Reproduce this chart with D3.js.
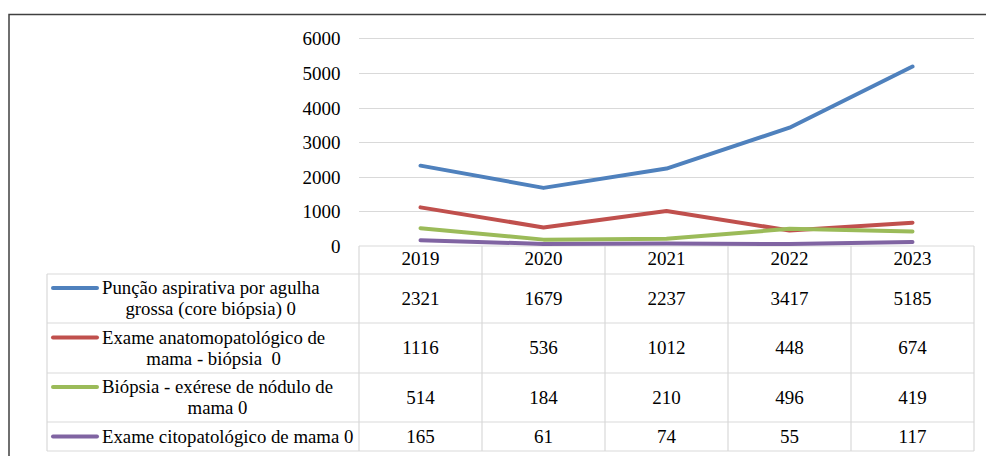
<!DOCTYPE html>
<html><head><meta charset="utf-8">
<script src="https://cdn.jsdelivr.net/npm/d3@7"></script>
<style>html,body{margin:0;padding:0;background:#fff}svg{display:block}</style>
</head><body>
<svg id="c" width="986" height="456"></svg>
<script>
const years = ["2019","2020","2021","2022","2023"];
const seriesNames = [
  ["Punção aspirativa por agulha","grossa (core biópsia) 0"],
  ["Exame anatomopatológico de","mama - biópsia  0"],
  ["Biópsia - exérese de nódulo de","mama 0"],
  ["Exame citopatológico de mama 0"]
];
const puncao = [2321,1679,2237,3417,5185];
const anatomo = [1116,536,1012,448,674];
const exerese = [514,184,210,496,419];
const citopat = [165,61,74,55,117];
const seriesValues = [puncao, anatomo, exerese, citopat];
const colors = ["#4f81bd","#c0504d","#9bbb59","#8064a2"];
const yTicks = [0,1000,2000,3000,4000,5000,6000];

const svg = d3.select("#c");
svg.append("rect").attr("width",986).attr("height",456).attr("fill","#fff");
const FF = '"Liberation Serif"';
const fsNum = "19px", fsLeg = "18.8px";
const styleText = (sel, fs) => sel.style("font-family", FF).style("font-size", fs).style("white-space","pre").attr("fill","#000");

// outer frame
svg.append("path").attr("d","M9,456V14.5H986").attr("fill","none").attr("stroke","#404040").attr("stroke-width",1.5);

const x = d3.scaleBand().domain(years).range([359,974]).padding(0);
const y = d3.scaleLinear().domain([0,6000]).range([246,38.3]);
const cx = d => x(d) + x.bandwidth()/2;
const grid = "#d9d9d9";

// gridlines
svg.append("g").selectAll("line").data(yTicks.filter(t=>t>0)).join("line")
  .attr("x1",359).attr("x2",974).attr("y1",d=>Math.round(y(d))+0.5).attr("y2",d=>Math.round(y(d))+0.5)
  .attr("stroke",grid).attr("stroke-width",1);

// y axis labels
const yAxis = d3.axisLeft(y).tickValues(yTicks).tickSize(0).tickPadding(0).tickFormat(d3.format("d"));
const gy = svg.append("g").attr("transform","translate(340.5,0)").call(yAxis);
gy.select(".domain").remove();
styleText(gy.selectAll("text"), fsNum).attr("dy","0.34em");

// table
const rowEdges = [246,274,323,373,422,451];
const colEdges = [359].concat(years.map(d=>x(d)+x.bandwidth()));
const tbl = svg.append("g").attr("stroke",grid).attr("stroke-width",1.2).attr("fill","none");
tbl.append("line").attr("x1",359).attr("x2",974).attr("y1",246).attr("y2",246);
rowEdges.slice(1).forEach(r=>tbl.append("line").attr("x1",47).attr("x2",974).attr("y1",r).attr("y2",r));
colEdges.forEach(c=>tbl.append("line").attr("x1",c).attr("x2",c).attr("y1",246).attr("y2",451));
tbl.append("line").attr("x1",47).attr("x2",47).attr("y1",274).attr("y2",451);

// header years
styleText(svg.append("g").selectAll("text").data(years).join("text")
  .attr("x",cx).attr("y",(rowEdges[0]+rowEdges[1])/2 - 1).attr("dy","0.34em")
  .attr("text-anchor","middle").text(d=>d), fsNum);

// rows
seriesValues.forEach((vals,i)=>{
  const top = rowEdges[i+1], bot = rowEdges[i+2], mid = (top+bot)/2;
  const g = svg.append("g");
  styleText(g.selectAll("text").data(vals).join("text")
    .attr("x",(d,j)=>cx(years[j])).attr("y",mid).attr("dy","0.34em")
    .attr("text-anchor","middle").text(d=>d), fsNum);
  const lines = seriesNames[i];
  const lh = 21;
  const y0 = mid - (lines.length-1)*lh/2;
  const tl = g.append("g");
  const ts = lines.map((s,k)=>styleText(tl.append("text").attr("y",y0+k*lh).attr("dy","0.34em")
    .attr("text-anchor","middle").text(s), fsLeg));
  const maxW = d3.max(ts.map(t=>t.node().getComputedTextLength()));
  ts.forEach(t=>t.attr("x",102+maxW/2));
  g.append("line").attr("x1",53).attr("x2",97).attr("y1",y0).attr("y2",y0)
    .attr("stroke",colors[i]).attr("stroke-width",4).attr("stroke-linecap","round");
});

// lines
const line = d3.line().x((d,j)=>cx(years[j])).y(d=>y(d));
svg.append("g").selectAll("path").data(seriesValues).join("path")
  .attr("d",line).attr("fill","none").attr("stroke",(d,i)=>colors[i])
  .attr("stroke-width",4).attr("stroke-linecap","round").attr("stroke-linejoin","round");
</script>
</body></html>
